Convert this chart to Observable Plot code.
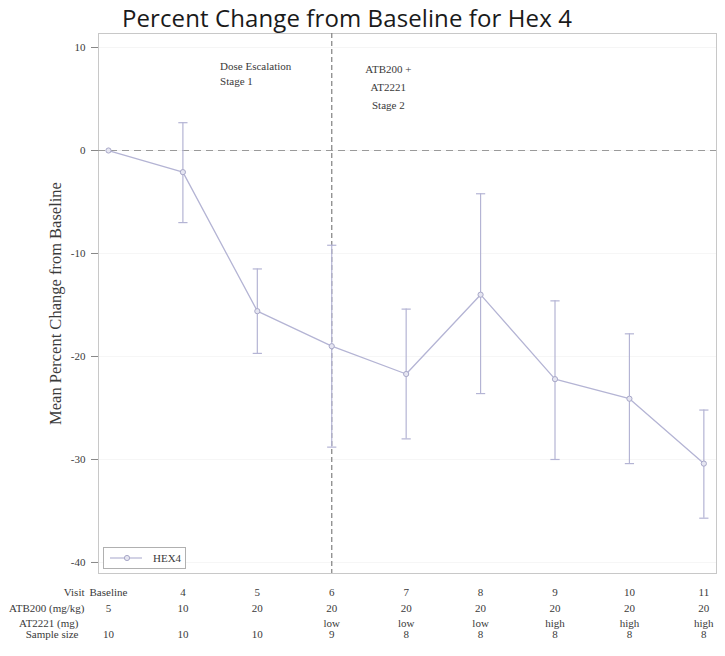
<!DOCTYPE html>
<html>
<head>
<meta charset="utf-8">
<script src="https://cdn.jsdelivr.net/npm/d3@7"></script>
<script src="https://cdn.jsdelivr.net/npm/@observablehq/plot@0.6"></script>
<style>
  body { margin: 0; background: #fff; }
  #wrap { position: relative; width: 725px; height: 656px; }
  #title { position: absolute; left: 122px; top: 1px; font-family: "Open Sans", sans-serif; font-size: 24px; letter-spacing: 0.1px; color: #1a1a1a; white-space: nowrap; }
  #legend { position: absolute; left: 103px; top: 547px; width: 81px; height: 20px; border: 1px solid #b0b0b0; background: #fff; }
  #legend svg { display: block; }
</style>
</head>
<body>
<div id="wrap">
  <div id="chart"></div>
  <div id="title">Percent Change from Baseline for Hex 4</div>
  <div id="legend"></div>
</div>
<script>
// Visits and the mean percent change of Hex4 with its error limits
const visits = ["Baseline", "4", "5", "6", "7", "8", "9", "10", "11"];
const meanChange = [0, -2.1, -15.6, -19.0, -21.7, -14.0, -22.2, -24.1, -30.4];
const lowerLimit = [null, -7.0, -19.7, -28.8, -28.0, -23.6, -30.0, -30.4, -35.7];
const upperLimit = [null, 2.7, -11.5, -9.2, -15.4, -4.2, -14.6, -17.8, -25.2];

// Treatment table shown under the x axis
const atb200Dose = ["5", "10", "20", "20", "20", "20", "20", "20", "20"];
const at2221Dose = ["", "", "", "low", "low", "low", "high", "high", "high"];
const sampleSize = ["10", "10", "10", "9", "8", "8", "8", "8", "8"];

// Stage boundary and stage labels
const stageBoundaryVisit = "6";
const stageLabels = [
  {visit: 1.5, value: 8.9, text: "Dose Escalation\nStage 1"},
  {visit: 3.76, value: 8.7, text: "ATB200 +\nAT2221\nStage 2"}
];

const yTicks = [10, 0, -10, -20, -30, -40];
const yLabel = "Mean Percent Change from Baseline";

const rows = visits.map((v, i) => ({
  i, visit: v, mean: meanChange[i], lo: lowerLimit[i], hi: upperLimit[i],
  atb: atb200Dose[i], at: at2221Dose[i], n: sampleSize[i]
}));
const bars = rows.filter(d => d.lo != null);

const lineColor = "#b4b4d4";
const textColor = "#3a3a3a";
const serif = "'Liberation Serif', 'DejaVu Serif', serif";

// Horizontal cap for the error bars
const cap = {draw(ctx, size) { const w = Math.sqrt(size); ctx.moveTo(-w, 0); ctx.lineTo(w, 0); }};

const tableRows = [
  {label: "Visit", field: "visit", dy: 22, labelDx: -14},
  {label: "ATB200 (mg/kg)", field: "atb", dy: 38, labelDx: -14},
  {label: "AT2221 (mg)", field: "at", dy: 53, labelDx: -20},
  {label: "Sample size", field: "n", dy: 64, labelDx: -20}
];

const chart = Plot.plot({
  width: 725,
  height: 656,
  marginTop: 33,
  marginBottom: 83,
  marginLeft: 98,
  marginRight: 9,
  style: {fontFamily: serif, fontSize: "11px", color: textColor, background: "#fff"},
  x: {domain: [-0.134, 8.17], axis: null},
  y: {domain: [-41.07, 11.36]},
  marks: [
    Plot.gridY(yTicks, {stroke: "#000", strokeOpacity: 0.04}),
    Plot.frame({stroke: "#c8c8c8"}),
    Plot.axisY(yTicks, {
      tickSize: 7, tickPadding: 6, stroke: "#888",
      tickFormat: d => String(d), fontSize: 11, label: null
    }),
    Plot.text([yLabel], {text: d => d, frameAnchor: "left", textAnchor: "middle", rotate: -90, dx: -43, fontSize: 16.5, fill: textColor}),
    Plot.ruleY([0], {stroke: "#9a9a9a", strokeDasharray: "7,5", strokeWidth: 1}),
    Plot.ruleX([visits.indexOf(stageBoundaryVisit)], {stroke: "#8a8a8a", strokeDasharray: "5,3", strokeWidth: 1.3}),
    Plot.ruleX(bars, {x: "i", y1: "lo", y2: "hi", stroke: lineColor, strokeWidth: 1.2}),
    Plot.dot(bars, {x: "i", y: "lo", symbol: cap, r: 2.6, stroke: lineColor, strokeWidth: 1.2}),
    Plot.dot(bars, {x: "i", y: "hi", symbol: cap, r: 2.6, stroke: lineColor, strokeWidth: 1.2}),
    Plot.line(rows, {x: "i", y: "mean", stroke: lineColor, strokeWidth: 1.3}),
    Plot.dot(rows, {x: "i", y: "mean", r: 2.6, stroke: "#a8a8c8", fill: "#e6e6f2", strokeWidth: 1}),
    Plot.text([stageLabels[0]], {x: "visit", y: "value", text: "text", textAnchor: "start", lineAnchor: "top", lineHeight: 1.4, fontSize: 11, fill: textColor}),
    Plot.text([stageLabels[1]], {x: "visit", y: "value", text: "text", textAnchor: "middle", lineAnchor: "top", lineHeight: 1.6, fontSize: 11, fill: textColor}),
    // Treatment table under the plot
    ...tableRows.map(r => Plot.text(rows, {x: "i", text: r.field, frameAnchor: "bottom", dy: r.dy, fontSize: 11, fill: textColor})),
    ...tableRows.map(r => Plot.text([r.label], {text: d => d, frameAnchor: "bottom-left", dx: r.labelDx, dy: r.dy, textAnchor: "end", fontSize: 11, fill: textColor}))
  ]
});
document.getElementById("chart").appendChild(chart);

// Series key in the lower-left corner of the plot
const key = d3.select("#legend").append("svg").attr("width", 81).attr("height", 20);
key.append("line").attr("x1", 6).attr("x2", 38).attr("y1", 10).attr("y2", 10).attr("stroke", lineColor).attr("stroke-width", 1.2);
key.append("circle").attr("cx", 23).attr("cy", 10).attr("r", 2.6).attr("stroke", "#a8a8c8").attr("fill", "#e6e6f2");
key.append("text").attr("x", 49).attr("y", 14).text("HEX4").attr("font-family", serif).attr("font-size", "11px").attr("fill", textColor);
</script>
</body>
</html>
